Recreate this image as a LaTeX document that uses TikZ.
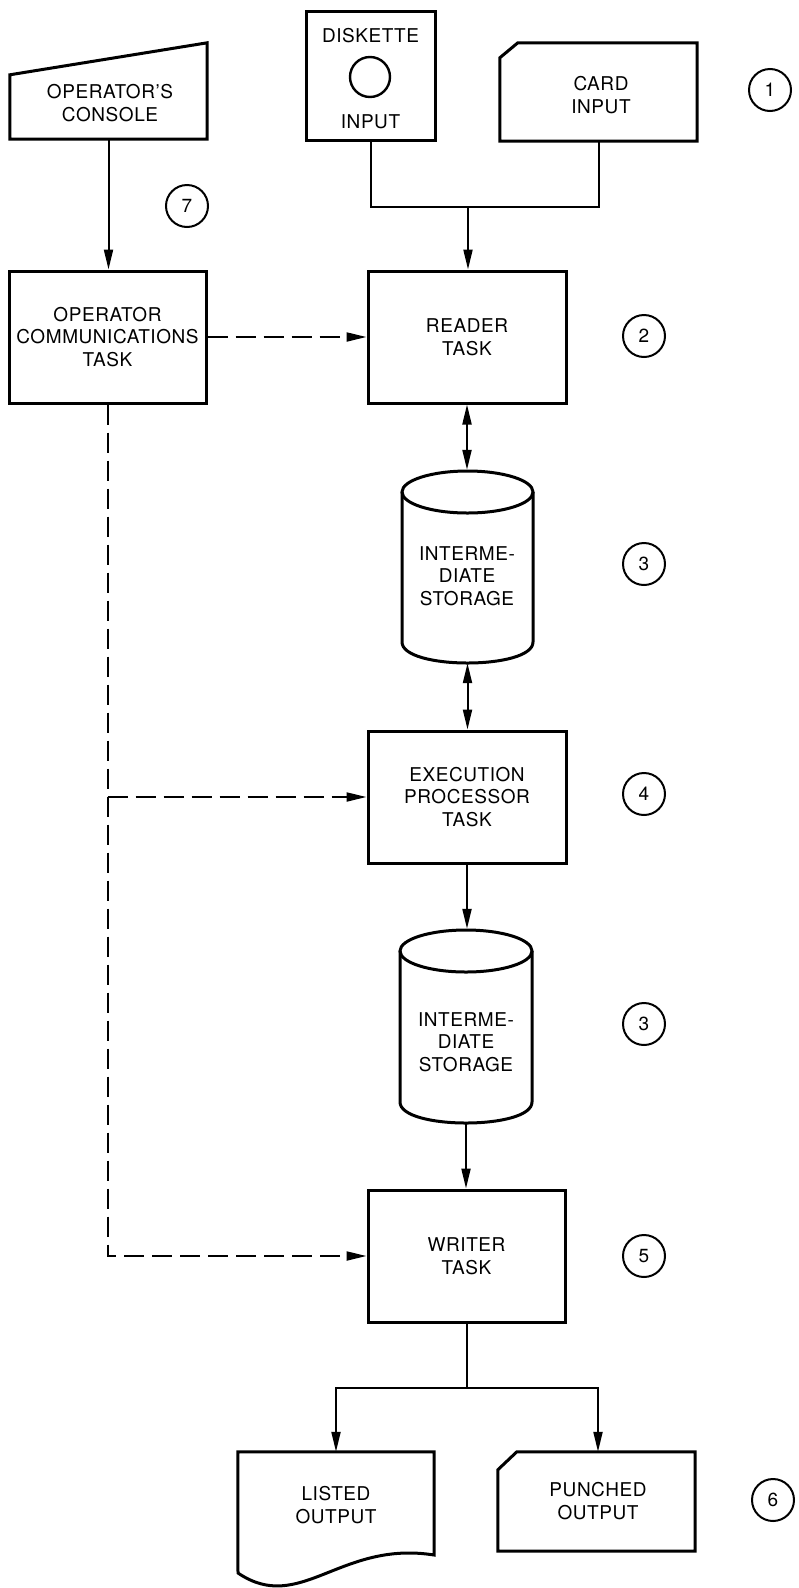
\documentclass[tikz,border=0pt]{standalone}
\usepackage{fontspec}
\setmainfont{TeX Gyre Heros}
\usetikzlibrary{arrows.meta,calc}
\newcommand\dgfont{\fontsize{19}{22.5}\selectfont\addfontfeature{LetterSpace=3}}
\begin{document}
\begin{tikzpicture}[x=1pt,y=-1pt,
  shp/.style={line width=3pt,line join=miter},
  box/.style={draw,line width=3pt,fill=white,minimum width=197pt,minimum height=132pt,align=center,font=\dgfont,inner sep=0pt},
  bounds/.style={draw=none,inner sep=0pt,align=center,font=\dgfont},
  txt/.style={align=center,font=\dgfont,inner sep=0pt},
  num/.style={circle,draw,line width=2pt,minimum size=42pt,inner sep=0pt,font=\dgfont},
  conn/.style={line width=2pt},
  arr/.style={line width=2pt,-{Triangle[length=20pt,width=9pt]}},
  darr/.style={line width=2pt,{Triangle[length=20pt,width=9pt]}-{Triangle[length=20pt,width=9pt]}},
  dsh/.style={line width=2pt,dash pattern=on 20pt off 8pt}
]
\useasboundingbox (0,0) rectangle (799,1588);
\fill[white] (0,0) rectangle (799,1588);

% ---- Operator's console
\node[bounds,minimum width=197pt,minimum height=96pt] (console) at (108.5,91) {};
\draw[shp] (console.south west) -- (console.south east) -- (console.north east)
  -- ($(console.north west)+(0,32)$) -- cycle;
\node[txt] (consoleT) at (110,103) {OPERATOR'S\\CONSOLE};

% ---- Diskette input
\node[box,minimum width=129pt,minimum height=129pt] (disk) at (370.5,75.5) {};
\node[txt] (diskT1) at (370.5,36) {DISKETTE};
\node[circle,draw,line width=2.4pt,minimum size=40pt,inner sep=0pt] (diskC) at (370,77) {};
\node[txt] (diskT2) at (370.5,122) {INPUT};

% ---- Card input
\node[bounds,minimum width=197pt,minimum height=98pt] (card) at (598.5,92) {};
\draw[shp] ($(card.north west)+(0,15)$) -- ($(card.north west)+(18,0)$) -- (card.north east)
  -- (card.south east) -- (card.south west) -- cycle;
\node[txt] (cardT) at (601,95) {CARD\\INPUT};

% ---- Boxes
\node[box] (opcomm) at (107.5,337) {OPERATOR\\COMMUNICATIONS\\TASK};
\node[box,minimum width=198pt] (reader) at (467,337) {READER\\TASK};
\node[box,minimum width=198pt] (exec) at (467,797) {EXECUTION\\PROCESSOR\\TASK};
\node[box] (writer) at (466.5,1256) {WRITER\\TASK};

% ---- Cylinder 1
\node[bounds,minimum width=131pt,minimum height=193pt] (cyl1) at (467.5,566.5) {};
\draw[shp,fill=white] (402,492) -- (402,642) .. controls (402,670) and (533,670) .. (533,642) -- (533,492);
\draw[shp] (467.5,492) ellipse [x radius=65.5, y radius=21];
\node[txt] (cyl1T) at (467,576) {INTERME-\\DIATE\\STORAGE};

% ---- Cylinder 2
\node[bounds,minimum width=132pt,minimum height=194pt] (cyl2) at (466,1026) {};
\draw[shp,fill=white] (400,951) -- (400,1102) .. controls (400,1130) and (532,1130) .. (532,1102) -- (532,951);
\draw[shp] (466,951) ellipse [x radius=66, y radius=21];
\node[txt] (cyl2T) at (466,1042) {INTERME-\\DIATE\\STORAGE};

% ---- Listed output
\node[bounds,minimum width=196pt,minimum height=135pt] (listed) at (336,1519.5) {};
\draw[shp] (listed.north west) -- (listed.north east) -- (434,1555)
  .. controls (340,1540) and (300,1615) .. (238,1573) -- cycle;
\node[txt] (listedT) at (336,1505) {LISTED\\OUTPUT};

% ---- Punched output
\node[bounds,minimum width=197pt,minimum height=99pt] (punched) at (596.5,1501.5) {};
\draw[shp] ($(punched.north west)+(0,18)$) -- ($(punched.north west)+(19,0)$) -- (punched.north east)
  -- (punched.south east) -- (punched.south west) -- cycle;
\node[txt] (punchedT) at (598,1501) {PUNCHED\\OUTPUT};

% ---- Numbered circles
\node[num] (n1) at (770,90) {1};
\node[num] (n2) at (644,336) {2};
\node[num] (n3a) at (644,564) {3};
\node[num] (n4) at (644,794) {4};
\node[num] (n3b) at (644,1024) {3};
\node[num] (n5) at (644,1256) {5};
\node[num] (n6) at (773,1500) {6};
\node[num] (n7) at (187,206) {7};

% ---- Connectors
\coordinate (j1) at (468,207);
\draw[conn] (disk.south) |- (j1) -| (card.south);
\draw[arr] (j1) -- (j1 |- reader.north);
\draw[arr] (console.south) -- (console.south |- opcomm.north);
\draw[darr] (reader.south) -- (reader.south |- cyl1.north);
\draw[darr] (cyl1.south) -- (cyl1.south |- exec.north);
\draw[arr] (exec.south) -- (exec.south |- cyl2.north);
\draw[arr] (cyl2.south) -- (cyl2.south |- writer.north);
\coordinate (j2) at (466.5,1388);
\draw[conn] (writer.south) -- (j2);
\draw[arr] (j2) -| (listed.north);
\draw[arr] (j2) -| ($(punched.north)+(1.5,0)$);

% ---- Dashed control lines
\draw[dsh,-{Triangle[length=20pt,width=9pt]}] (opcomm.east) -- (reader.west);
\draw[dsh,-{Triangle[length=20pt,width=9pt]}] (opcomm.south) |- (writer.west);
\coordinate (d1) at (opcomm.south |- exec.west);
\draw[dsh,-{Triangle[length=20pt,width=9pt]}] (d1) -- (exec.west);
\end{tikzpicture}
\end{document}
